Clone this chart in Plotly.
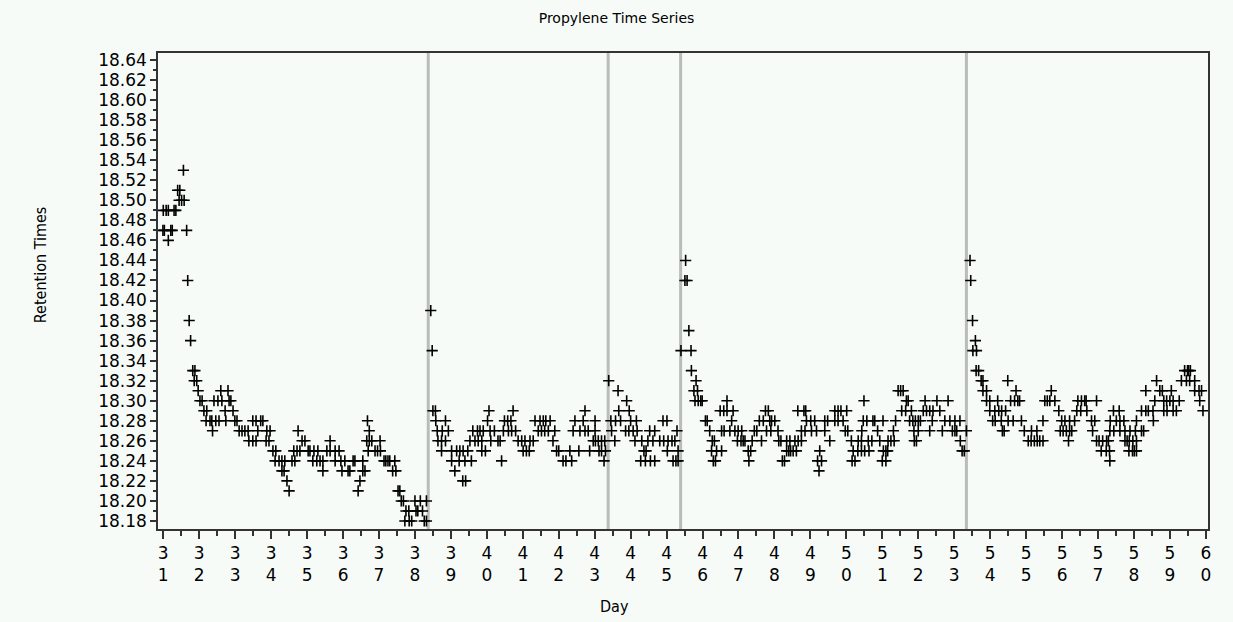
import plotly.graph_objects as go

# ---- data (day, retention time) ----
d_1853 = [31.56]
d_1851 = [31.40, 31.46]
d_1850 = [31.44, 31.51, 31.58]
d_1849 = [31.00, 31.08, 31.14, 31.30, 31.35]
d_1847 = [30.99, 31.03, 31.21, 31.25, 31.65]
d_1846 = [31.14]
d_1844 = [45.53, 53.44]
d_1842 = [31.68, 45.51, 45.57, 53.46]
d_1839 = [38.44]
d_1838 = [31.72, 53.51]
d_1837 = [45.62]
d_1836 = [31.76, 53.59]
d_1835 = [38.48, 45.40, 45.68, 53.52, 53.62]
d_1833 = [31.82, 31.88, 45.69, 53.61, 53.68, 59.41, 59.49, 59.52, 59.57]
d_1832 = [31.86, 31.93, 43.39, 45.82, 53.75, 53.80, 54.49, 58.63, 59.32, 59.46,
          59.55, 59.69]
d_1831 = [31.97, 32.60, 32.80, 43.65, 45.76, 45.86, 51.44, 51.51, 51.58, 53.80,
          53.90, 54.72, 55.70, 58.33, 58.72, 58.79, 59.04, 59.69, 59.81, 59.88]
d_1830 = [32.02, 32.08, 32.41, 32.52, 32.63, 32.83, 32.88, 43.89, 45.79, 45.88,
          45.95, 45.99, 46.68, 50.49, 51.67, 51.72, 52.19, 52.52, 52.83, 53.90,
          53.99, 54.21, 54.57, 54.68, 54.77, 54.82, 55.52, 55.59, 55.66, 55.80,
          56.44, 56.54, 56.63, 56.67, 56.96, 58.58, 58.83, 58.91, 59.00, 59.09,
          59.26, 59.83]
d_1829 = [32.13, 32.21, 32.72, 32.94, 38.50, 38.57, 40.06, 40.73, 42.73, 43.67,
          43.96, 46.49, 46.59, 46.68, 46.85, 47.75, 47.83, 48.65, 48.82, 48.87,
          49.68, 49.77, 49.85, 50.01, 51.54, 51.65, 51.81, 52.14, 52.23, 52.32,
          52.41, 52.60, 53.99, 54.13, 54.24, 54.32, 54.43, 55.91, 56.41, 56.52,
          56.69, 57.43, 57.59, 58.21, 58.33, 58.40, 58.53, 58.83, 58.92, 59.09,
          59.18, 59.92]
d_1828 = [32.19, 32.30, 32.35, 32.46, 32.55, 32.74, 32.99, 33.05, 33.49, 33.58,
          33.71, 33.77, 36.68, 38.58, 38.85, 40.02, 40.49, 40.58, 40.67, 41.34,
          41.48, 41.57, 41.64, 41.76, 42.45, 42.68, 43.01, 43.45, 43.58, 43.72,
          44.00, 44.16, 44.90, 45.01, 46.08, 46.13, 46.81, 47.58, 47.69, 47.87,
          47.92, 48.01, 48.89, 49.01, 49.12, 49.40, 49.48, 49.68, 49.77, 49.91,
          50.47, 50.57, 50.74, 50.79, 51.02, 51.37, 51.76, 51.85, 51.92, 52.00,
          52.06, 52.39, 52.74, 52.88, 53.02, 53.16, 54.07, 54.14, 54.31, 54.50,
          54.64, 54.87, 55.47, 55.99, 56.08, 56.21, 56.35, 56.82, 56.91, 57.34,
          57.51, 57.61, 57.72, 58.07, 58.54]
d_1827 = [32.37, 33.11, 33.19, 33.27, 33.36, 33.63, 33.88, 33.97, 34.75, 36.73,
          38.62, 38.76, 38.93, 39.61, 39.74, 39.81, 39.90, 40.09, 40.21, 40.46,
          40.60, 40.69, 40.80, 41.43, 41.52, 41.61, 41.71, 41.89, 42.40, 42.59,
          42.73, 42.82, 43.01, 43.47, 43.86, 43.95, 44.07, 44.18, 44.53, 44.67,
          45.29, 46.20, 46.53, 46.60, 46.76, 46.90, 46.99, 47.09, 47.44, 47.51,
          47.78, 47.90, 48.10, 48.75, 48.85, 49.03, 49.17, 49.40, 49.97, 50.04,
          50.43, 50.87, 51.31, 51.88, 52.00, 52.32, 52.67, 52.95, 53.02, 53.07,
          53.34, 54.34, 54.39, 54.95, 55.15, 55.30, 55.95, 56.03, 56.12, 56.21,
          56.27, 56.85, 57.33, 57.44, 57.61, 57.75, 57.89, 58.04, 58.21, 58.27]
d_1826 = [33.38, 33.49, 33.58, 33.86, 33.94, 34.86, 34.94, 35.64, 36.66, 36.73,
          36.80, 37.03, 38.64, 38.74, 38.85, 39.53, 39.67, 39.76, 39.86, 40.11,
          40.31, 40.37, 40.87, 40.97, 41.06, 41.20, 41.29, 41.84, 42.96, 43.02,
          43.10, 43.19, 43.28, 43.56, 44.12, 44.31, 44.48, 44.62, 44.81, 44.92,
          45.04, 45.15, 45.23, 46.27, 46.33, 46.97, 47.07, 47.13, 47.18, 47.38,
          47.64, 48.12, 48.18, 48.34, 48.43, 48.57, 48.66, 48.75, 49.54, 50.14,
          50.33, 50.42, 50.61, 50.71, 50.93, 51.16, 51.24, 51.33, 51.89, 51.95,
          53.17, 55.06, 55.14, 55.23, 55.31, 55.38, 55.47, 56.18, 56.96, 57.03,
          57.13, 57.24, 57.29, 57.75, 57.81, 57.87, 57.97, 58.07]
d_1825 = [34.05, 34.13, 34.63, 34.72, 34.80, 35.03, 35.08, 35.19, 35.30, 35.55,
          35.64, 35.78, 35.89, 36.70, 36.89, 36.96, 37.04, 38.74, 39.02, 39.16,
          39.25, 39.34, 39.47, 39.86, 39.96, 41.01, 41.10, 41.18, 41.94, 42.00,
          42.31, 42.56, 42.86, 43.12, 43.19, 43.30, 44.37, 44.43, 45.02, 45.32,
          46.25, 46.39, 46.53, 47.27, 47.34, 48.34, 48.40, 48.45, 48.52, 48.61,
          49.26, 50.19, 50.32, 50.42, 50.51, 50.63, 51.03, 51.10, 51.15, 53.22,
          53.28, 57.09, 57.23, 57.32, 57.86, 57.96, 58.01, 58.07]
d_1824 = [34.11, 34.22, 34.30, 34.38, 34.58, 34.66, 35.16, 35.27, 35.36, 35.44,
          35.78, 35.94, 36.05, 36.28, 36.33, 36.55, 37.14, 37.19, 37.25, 37.30,
          37.44, 39.02, 39.23, 39.39, 39.57, 40.41, 42.12, 42.20, 42.36, 43.26,
          44.28, 44.41, 44.55, 44.67, 45.18, 45.26, 45.32, 46.30, 46.36, 47.29,
          48.22, 48.28, 49.20, 49.31, 50.16, 50.24, 51.00, 51.10, 57.33]
d_1823 = [34.30, 34.36, 35.44, 35.97, 36.14, 36.19, 36.55, 36.61, 37.38, 37.47,
          39.11, 49.24]
d_1822 = [34.44, 36.47, 39.33, 39.41]
d_1821 = [34.50, 36.42, 37.53, 37.58]
d_1820 = [37.62, 37.68, 38.00, 38.15, 38.32]
d_1819 = [37.75, 37.83, 38.03, 38.08, 38.21]
d_1818 = [37.72, 37.84, 37.91, 38.26, 38.32]

levels = [18.53, 18.51, 18.50, 18.49, 18.47, 18.46, 18.44, 18.42, 18.39, 18.38,
          18.37, 18.36, 18.35, 18.33, 18.32, 18.31, 18.30, 18.29, 18.28, 18.27,
          18.26, 18.25, 18.24, 18.23, 18.22, 18.21, 18.20, 18.19, 18.18]
level_days = [d_1853, d_1851, d_1850, d_1849, d_1847, d_1846, d_1844, d_1842,
              d_1839, d_1838, d_1837, d_1836, d_1835, d_1833, d_1832, d_1831,
              d_1830, d_1829, d_1828, d_1827, d_1826, d_1825, d_1824, d_1823,
              d_1822, d_1821, d_1820, d_1819, d_1818]

# reference lines (days)
event_days = [38.37, 43.375, 45.39, 53.34]

# axis ticks
day_ticks = list(range(31, 61))
day_labels = [f"{str(d)[0]}<br>{str(d)[1]}" for d in day_ticks]

# ---- assemble series ----
pairs = []
for lvl, ds in zip(levels, level_days):
    for d in ds:
        pairs.append((d, lvl))
pairs.sort()
day = [p[0] for p in pairs]
retention = [p[1] for p in pairs]

BG = "#f7fbf8"
AX = "#333333"
NARROW = "Liberation Sans Narrow, DejaVu Sans Condensed, sans-serif"

fig = go.Figure()
fig.add_trace(go.Scatter(
    x=day, y=retention, mode="markers",
    marker=dict(symbol="cross-thin", size=8, color="black",
                line=dict(width=1.6, color="black")),
    showlegend=False, hoverinfo="x+y"))

for d in event_days:
    fig.add_vline(x=d, line=dict(color="#b9bdb9", width=3), layer="below")

fig.update_layout(
    width=1233, height=622,
    margin=dict(l=158, r=25, t=53, b=93),
    paper_bgcolor=BG, plot_bgcolor=BG,
    title=dict(text="Propylene Time Series", x=0.5, xref="container",
               xanchor="center", y=1 - 18 / 622, yref="container",
               yanchor="middle",
               font=dict(family="DejaVu Sans", size=14, color="black")),
    xaxis=dict(
        range=[30.853, 60.06], tickmode="array", tickvals=day_ticks,
        ticktext=day_labels, ticks="outside", ticklen=8, tickwidth=1.5,
        tickcolor=AX, showline=True, linecolor=AX, linewidth=1.5, mirror=True,
        showgrid=False, zeroline=False, automargin=False,
        tickfont=dict(family="DejaVu Sans", size=17, color="black"),
        minor=dict(tick0=31, dtick=0.5, ticks="outside", ticklen=5,
                   tickwidth=1.5, tickcolor=AX, showgrid=False),
    ),
    yaxis=dict(
        range=[18.172, 18.647], tickmode="linear", tick0=18.18, dtick=0.02,
        tickformat=".2f", ticks="outside", ticklen=6, tickwidth=1.5,
        tickcolor=AX, showline=True, linecolor=AX, linewidth=1.5, mirror=True,
        showgrid=False, zeroline=False, automargin=False,
        tickfont=dict(family="DejaVu Sans", size=17, color="black"),
        minor=dict(tick0=18.18, dtick=0.01, ticks="outside", ticklen=3,
                   tickwidth=1.5, tickcolor=AX, showgrid=False),
    ),
    annotations=[
        dict(text="Day", xref="paper", yref="paper", x=0.435, y=-0.162,
             xanchor="center", yanchor="middle", showarrow=False,
             font=dict(family=NARROW, size=16, color="black")),
        dict(text="Retention Times", xref="paper", yref="paper", x=-0.112,
             y=0.555, xanchor="center", yanchor="middle", textangle=-90,
             showarrow=False,
             font=dict(family=NARROW, size=16, color="black")),
    ],
)

fig.write_html("out.html", config={"displayModeBar": False},
               post_script="document.body.style.margin='0px';document.body.style.overflow='hidden';")
